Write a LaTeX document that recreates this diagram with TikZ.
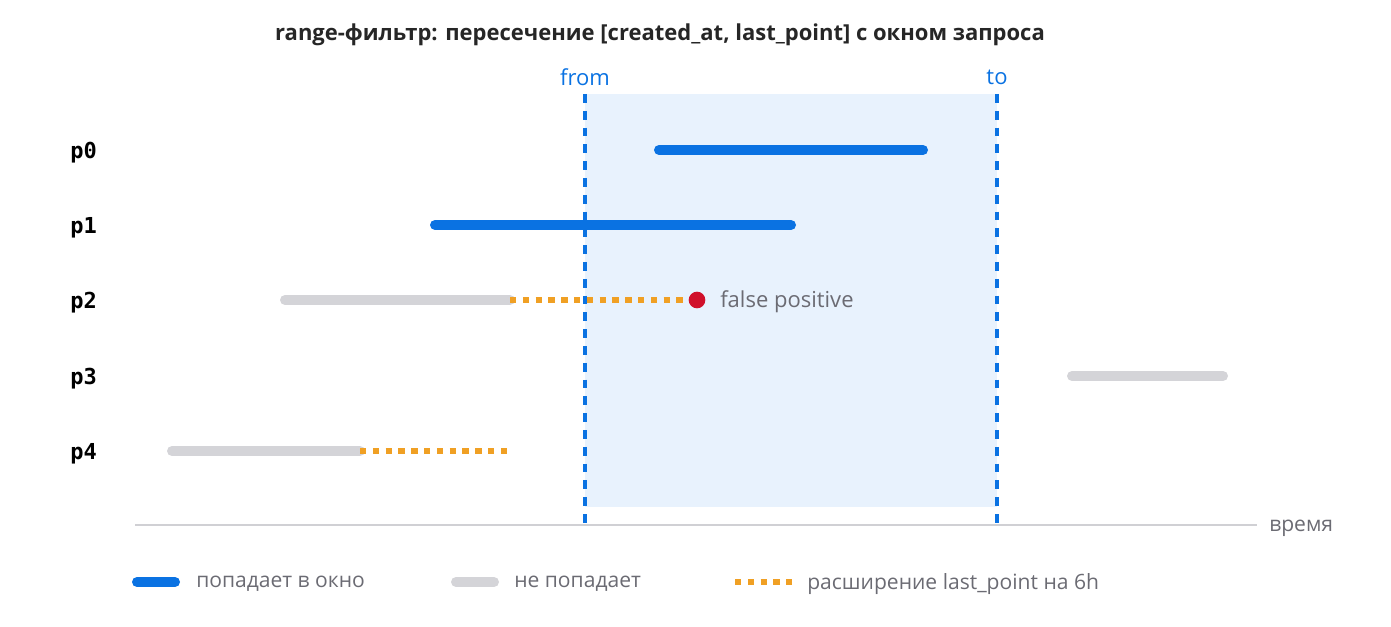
\documentclass[tikz,border=0pt]{standalone}
\usepackage{fontspec}
\setmainfont{Open Sans}
\setmonofont{DejaVu Sans Mono}
\definecolor{hitblue}{HTML}{0A72E2}
\definecolor{missgray}{HTML}{D4D4D8}
\definecolor{extorange}{HTML}{F0A024}
\definecolor{fpred}{HTML}{D0102A}
\definecolor{winfill}{HTML}{E8F2FD}
\definecolor{txtgray}{HTML}{6B6B73}
\definecolor{axisgray}{HTML}{D0D0D4}
\begin{document}
\begin{tikzpicture}[x=0.75pt, y=-0.75pt, line cap=round,
    hit/.style={line width=7.5pt, hitblue},
    miss/.style={line width=7.5pt, missgray},
    ext/.style={line width=4.3pt, extorange, line cap=butt, dash pattern=on 4.8pt off 4.8pt},
    bound/.style={line width=2.3pt, hitblue, line cap=butt, dash pattern=on 6.6pt off 6pt},
    rowlabel/.style={font=\ttfamily\bfseries\fontsize{16.5}{19}\selectfont, anchor=west, inner sep=0pt},
    bound label/.style={font=\fontsize{16.5}{19}\selectfont, text=hitblue, inner sep=0pt},
    legend text/.style={font=\fontsize{15.8}{19}\selectfont, text=txtgray, anchor=west, inner sep=0pt}]
  \useasboundingbox (0,0) rectangle (1391,627);

  % title
  \node[font=\bfseries\fontsize{16.5}{19}\selectfont, text=black!85] (title) at (660,35) {range-фильтр: пересечение [created\_at, last\_point] с окном запроса};

  % query window
  \fill[winfill] (585,94) rectangle (997,507);
  \coordinate (from top) at (585,94);
  \coordinate (from bot) at (585,525);
  \coordinate (to top) at (997,94);
  \coordinate (to bot) at (997,525);
  \node[bound label] (from) at (585,77) {from};
  \node[bound label] (to) at (997,77) {to};

  % time axis
  \coordinate (axis start) at (135,525);
  \coordinate (axis end) at (1257,525);
  \draw[axisgray, line width=1.2pt, line cap=butt] (axis start) -- (axis end);
  \node[legend text] (time) at (1269,528) {время};

  \draw[bound] (from top) -- (from bot);
  \draw[bound] (to top) -- (to bot);

  % rows
  \node[rowlabel] (p0) at (70,153) {p0};
  \node[rowlabel] (p1) at (70,228) {p1};
  \node[rowlabel] (p2) at (70,303) {p2};
  \node[rowlabel] (p3) at (70,379) {p3};
  \node[rowlabel] (p4) at (70,454) {p4};

  % p0
  \coordinate (p0 a) at (659,150);
  \coordinate (p0 b) at (923,150);
  \draw[hit] (p0 a) -- (p0 b);
  % p1
  \coordinate (p1 a) at (435,225);
  \coordinate (p1 b) at (791,225);
  \draw[hit] (p1 a) -- (p1 b);
  % p2
  \coordinate (p2 a) at (285,300);
  \coordinate (p2 b) at (510,300);
  \coordinate (p2 c) at (697,300);
  \draw[miss] (p2 a) -- (p2 b);
  \draw[ext] (p2 b) -- (p2 c);
  \node[circle, fill=fpred, minimum size=12.5pt, inner sep=0pt] (fp) at (p2 c) {};
  \node[legend text, font=\fontsize{16.5}{19}\selectfont] (fp label) at (720,302) {false positive};
  % p3
  \coordinate (p3 a) at (1072,376);
  \coordinate (p3 b) at (1223,376);
  \draw[miss] (p3 a) -- (p3 b);
  % p4
  \coordinate (p4 a) at (172,451);
  \coordinate (p4 b) at (360,451);
  \coordinate (p4 c) at (512,451);
  \draw[miss] (p4 a) -- (p4 b);
  \draw[ext] (p4 b) -- (p4 c);

  % legend
  \coordinate (lg hit a) at (137,582);
  \coordinate (lg hit b) at (175,582);
  \draw[hit] (lg hit a) -- (lg hit b);
  \node[legend text] (lg hit) at (196,584) {попадает в окно};
  \coordinate (lg miss a) at (456,582);
  \coordinate (lg miss b) at (494,582);
  \draw[miss] (lg miss a) -- (lg miss b);
  \node[legend text] (lg miss) at (514,584) {не попадает};
  \coordinate (lg ext a) at (735,582);
  \coordinate (lg ext b) at (792,582);
  \draw[ext] (lg ext a) -- (lg ext b);
  \node[legend text] (lg ext) at (807,584) {расширение last\_point на 6h};
\end{tikzpicture}
\end{document}
